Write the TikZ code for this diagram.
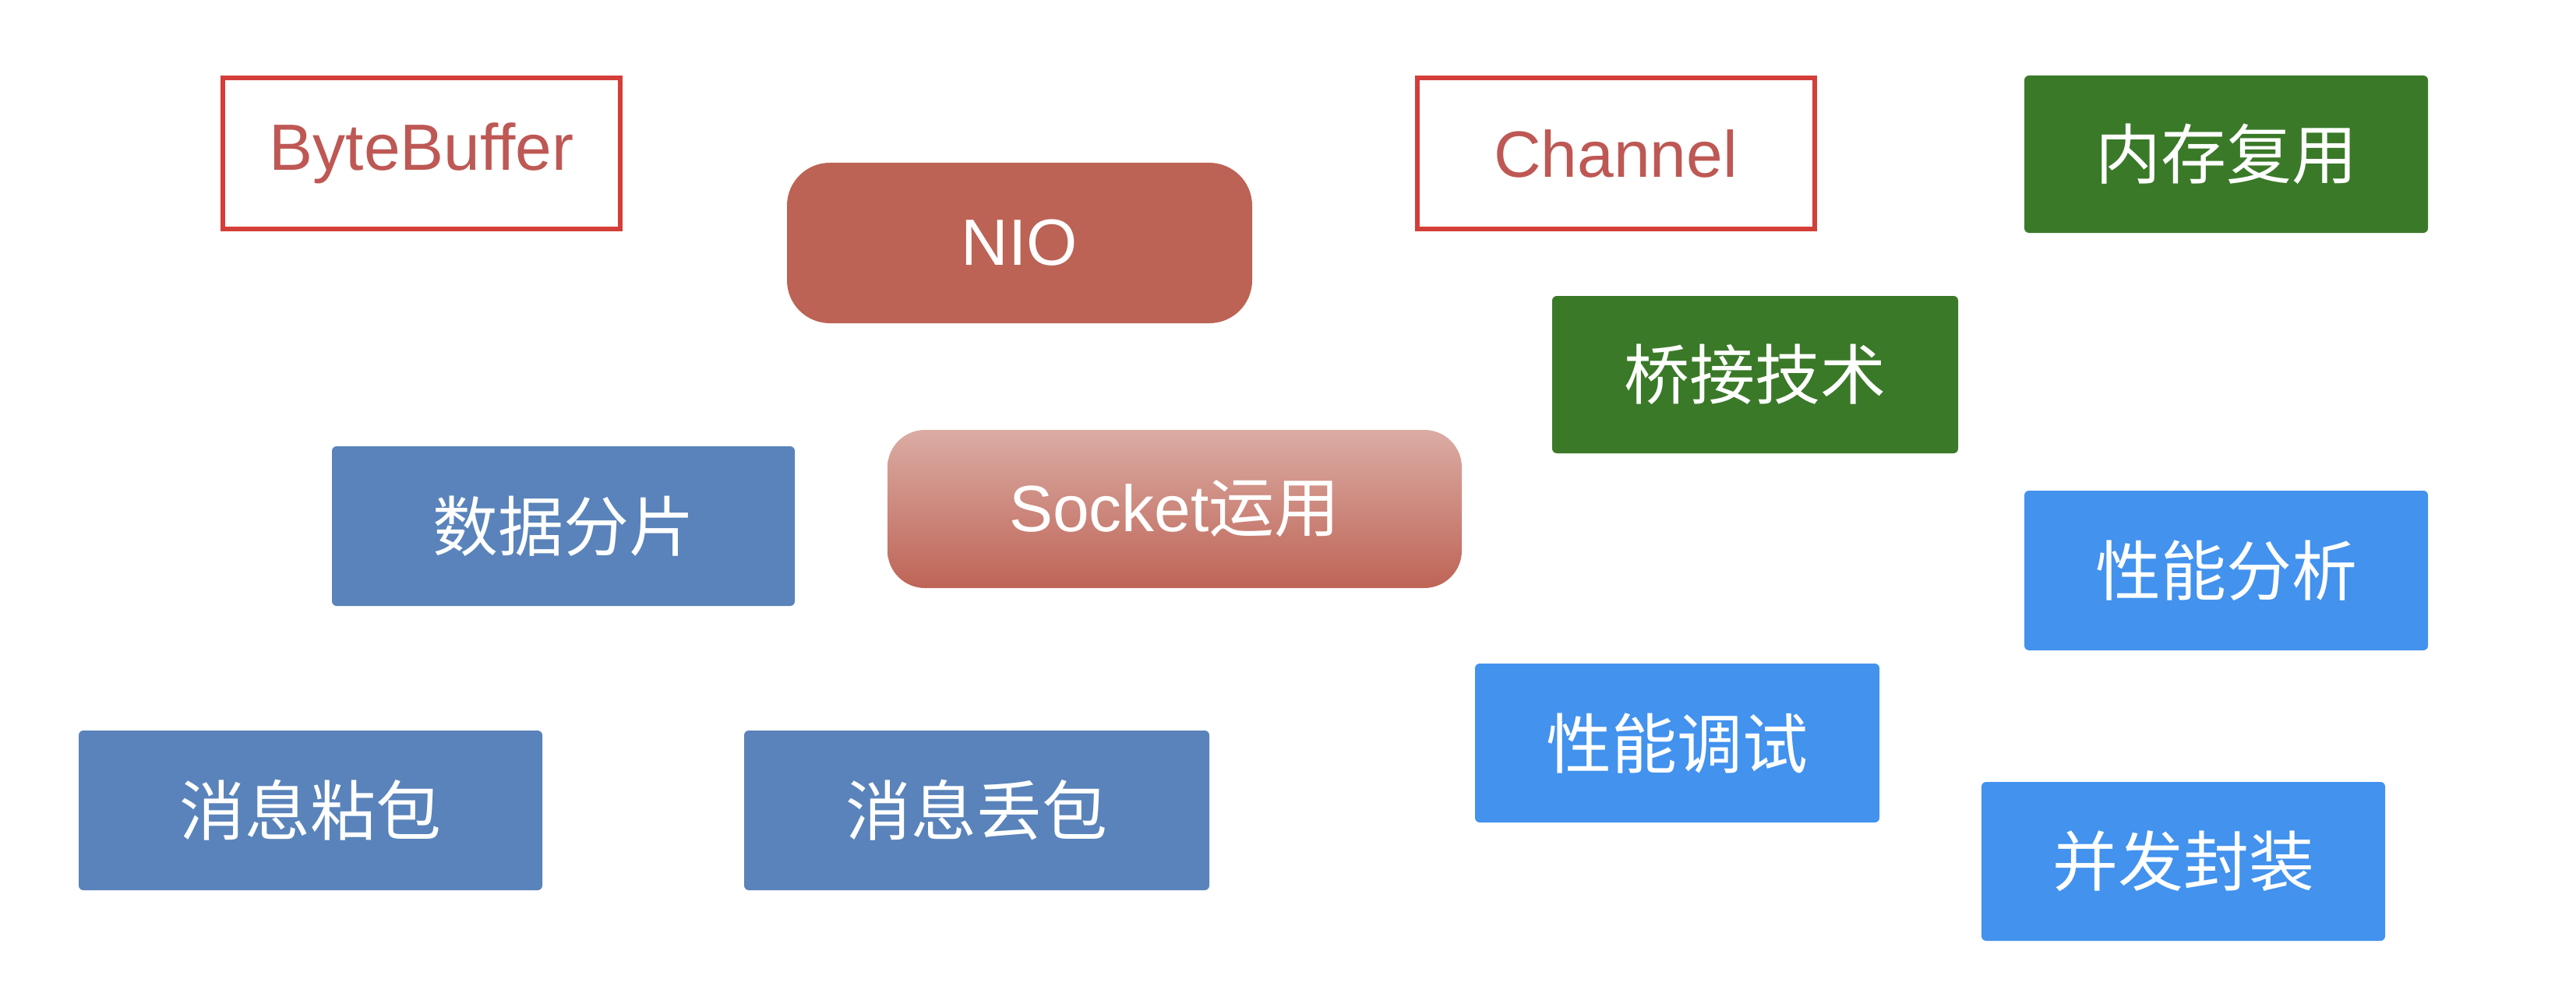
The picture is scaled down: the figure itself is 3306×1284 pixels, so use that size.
\documentclass[tikz,border=0pt]{standalone}
\usepackage{fontspec}
\setmainfont{Liberation Sans}
\newfontfamily\cjk{Noto Sans CJK SC}
\definecolor{boxred}{RGB}{212,62,56}
\definecolor{txtred}{RGB}{190,88,84}
\definecolor{nio}{RGB}{188,99,85}
\definecolor{socktop}{RGB}{219,172,164}
\definecolor{sockbot}{RGB}{190,100,86}
\definecolor{grn}{RGB}{58,121,40}
\definecolor{dblue}{RGB}{89,131,186}
\definecolor{lblue}{RGB}{66,146,238}
\tikzset{
  base/.style={inner sep=0pt, font=\fontsize{84}{94}\selectfont},
  outlinebox/.style={base, draw=boxred, line width=6pt, text=txtred, minimum width=510pt, minimum height=194pt},
  greenbox/.style={base, fill=grn, text=white, rounded corners=6pt, font=\cjk\fontsize{84}{94}\selectfont},
  dbluebox/.style={base, fill=dblue, text=white, rounded corners=6pt, font=\cjk\fontsize{84}{94}\selectfont},
  lbluebox/.style={base, fill=lblue, text=white, rounded corners=6pt, font=\cjk\fontsize{84}{94}\selectfont},
}
\begin{document}
\begin{tikzpicture}[x=1pt,y=-1pt]
\useasboundingbox[fill=white] (0,0) rectangle (3306,1284);
\node[outlinebox] (bb) at (541,197) {ByteBuffer};
\node[outlinebox] (ch) at (2073.5,197) {Channel};
\node[base, fill=nio, text=white, rounded corners=55pt, minimum width=597pt, minimum height=206pt] (nio) at (1308.5,312) {NIO};
\node[base, top color=socktop, bottom color=sockbot, text=white, rounded corners=48pt, minimum width=737pt, minimum height=203pt] (sock) at (1507.5,653.5) {Socket{\cjk 运用}};
\node[greenbox, minimum width=518pt, minimum height=202pt] (nc) at (2857,198) {内存复用};
\node[greenbox, minimum width=521pt, minimum height=202pt] (qj) at (2252.5,481) {桥接技术};
\node[dbluebox, minimum width=594pt, minimum height=205pt] (sj) at (723,675.5) {数据分片};
\node[dbluebox, minimum width=595pt, minimum height=205pt] (nb) at (398.5,1040.5) {消息粘包};
\node[dbluebox, minimum width=597pt, minimum height=205pt] (db) at (1253.5,1040.5) {消息丢包};
\node[lbluebox, minimum width=518pt, minimum height=205pt] (fx) at (2857,732.5) {性能分析};
\node[lbluebox, minimum width=519pt, minimum height=204pt] (ts) at (2152.5,954) {性能调试};
\node[lbluebox, minimum width=518pt, minimum height=204pt] (bf) at (2802,1106) {并发封装};
\end{tikzpicture}
\end{document}
